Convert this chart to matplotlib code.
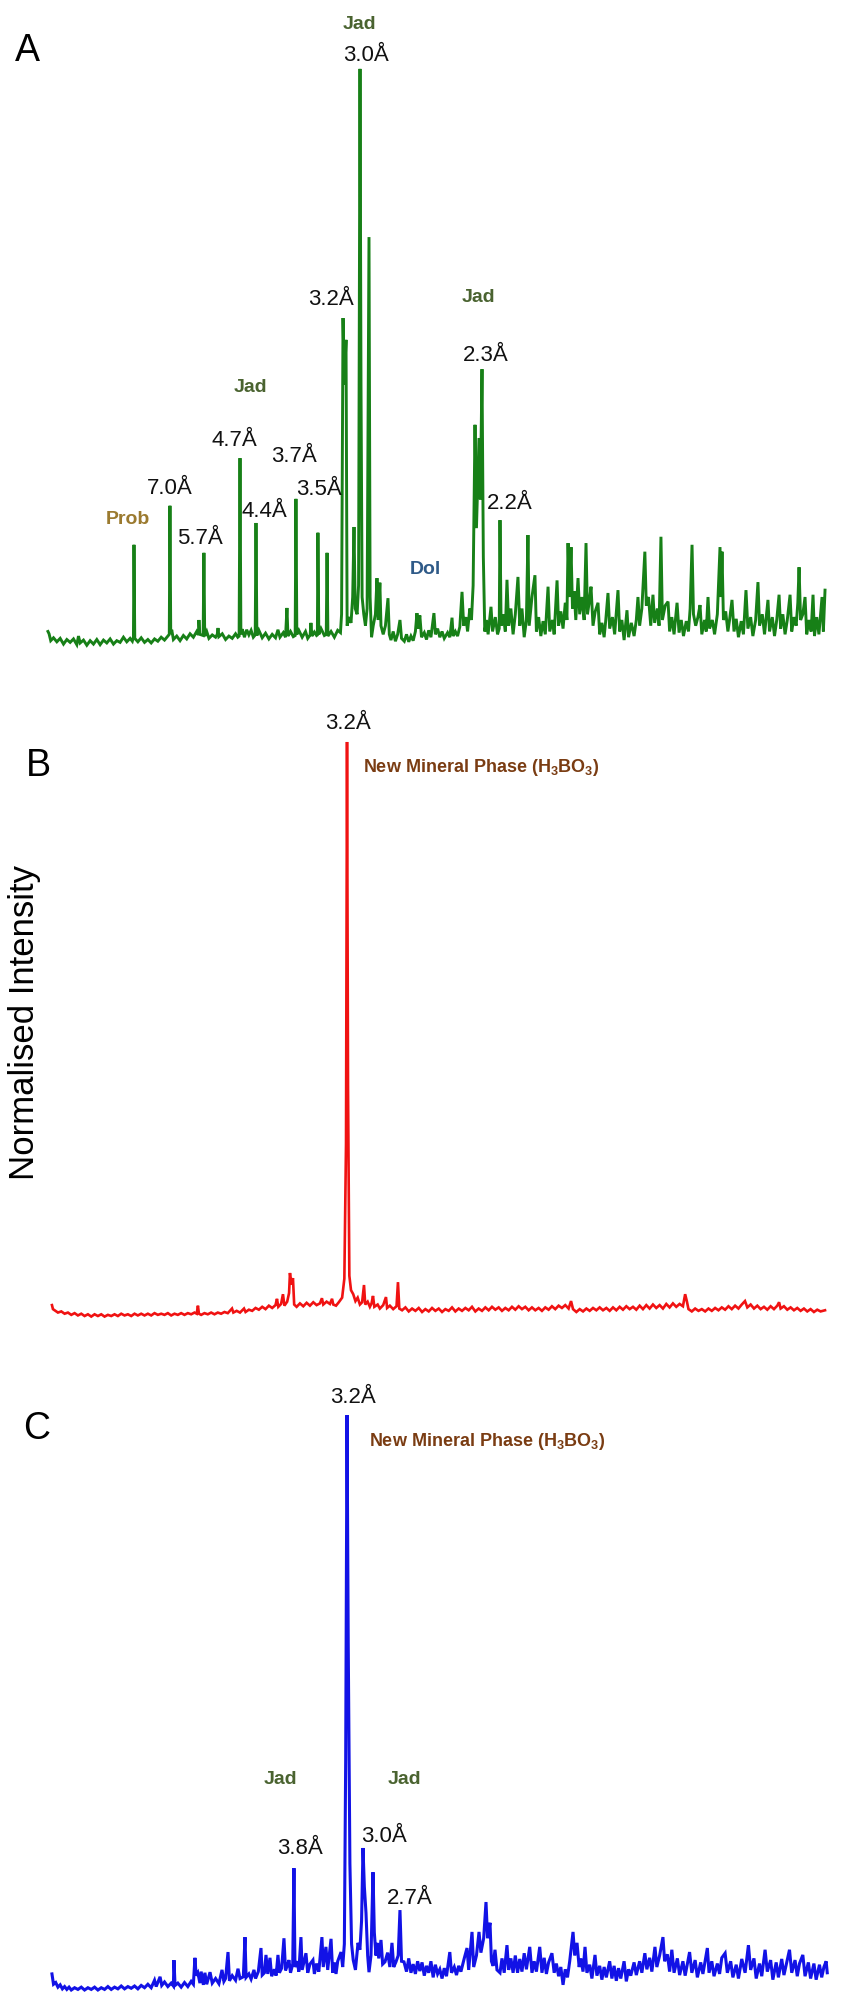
import matplotlib.pyplot as plt

# XRD patterns: (2theta in degrees, normalised intensity in %)
xrd_a = [
    (2.00, 2.0), (2.10, 1.6), (2.25, 0.4), (2.5, 0.9), (2.8, 0.2), (3.1, 0.8), (3.4, -0.2),
    (3.7, 0.6), (4.0, 0.1), (4.3, 0.7), (4.6, -0.3), (4.75, 1.2), (4.9, 0.0), (5.2, 0.5),
    (5.5, -0.4), (5.8, 0.4), (6.1, -0.2), (6.4, 0.6), (6.7, -0.3), (7.0, 0.5), (7.3, 0.0),
    (7.6, 0.7), (7.9, -0.2), (8.2, 0.4), (8.5, 0.1), (8.8, 1.0), (9.1, 0.2), (9.4, 0.8),
    (9.6, 0.3), (9.70, 1.0), (9.75, 17.1), (9.82, 0.8), (10.1, 0.2), (10.4, 0.9), (10.7, 0.1),
    (11.0, 0.6), (11.3, 0.0), (11.6, 0.7), (11.9, 0.3), (12.2, 1.0), (12.5, 0.5), (12.8, 1.2),
    (12.93, 1.5), (12.99, 23.9), (13.06, 1.6), (13.15, 2.3), (13.3, 0.6), (13.6, 1.2),
    (13.9, 0.4), (14.2, 1.3), (14.5, 0.7), (14.8, 1.6), (15.1, 1.0), (15.4, 2.0), (15.55, 1.4),
    (15.60, 4.0), (15.68, 1.5), (15.98, 1.3), (16.05, 15.7), (16.12, 1.2), (16.3, 2.0),
    (16.5, 0.8), (16.8, 1.4), (17.1, 1.0), (17.25, 1.5), (17.32, 2.6), (17.4, 1.1), (17.7, 1.6),
    (18.0, 0.6), (18.3, 1.2), (18.6, 0.8), (18.9, 1.6), (19.1, 1.0), (19.22, 1.2), (19.30, 32.2),
    (19.38, 1.5), (19.5, 2.4), (19.7, 1.0), (19.9, 2.3), (20.1, 1.4), (20.3, 2.2), (20.5, 1.0),
    (20.67, 1.4), (20.74, 20.9), (20.82, 1.3), (21.0, 2.2), (21.3, 0.9), (21.6, 1.7), (21.9, 0.7),
    (22.2, 1.5), (22.5, 0.9), (22.72, 2.3), (22.9, 1.0), (23.2, 1.8), (23.4, 1.0), (23.53, 6.1),
    (23.62, 1.2), (23.85, 2.0), (24.1, 1.1), (24.27, 1.3), (24.34, 25.1), (24.42, 1.5),
    (24.6, 2.2), (24.9, 1.0), (25.2, 2.0), (25.4, 0.8), (25.62, 1.4), (25.69, 3.5), (25.78, 1.2),
    (26.0, 1.9), (26.2, 1.3), (26.27, 1.4), (26.32, 19.2), (26.40, 1.5), (26.6, 2.5), (26.9, 1.3),
    (27.07, 1.5), (27.14, 15.7), (27.22, 1.2), (27.5, 2.0), (27.8, 1.0), (28.1, 2.2), (28.35, 1.8),
    (28.45, 5.0), (28.58, 56.6), (28.70, 45.0), (28.85, 52.8), (28.95, 3.0), (29.1, 4.5),
    (29.3, 3.5), (29.45, 8.0), (29.57, 20.2), (29.68, 6.0), (29.85, 5.0), (29.98, 10.0),
    (30.11, 100.0), (30.2, 45.0), (30.3, 8.0), (30.45, 5.0), (30.6, 3.0), (30.75, 6.0),
    (30.92, 70.7), (31.02, 8.0), (31.15, 1.0), (31.3, 3.0), (31.5, 5.0), (31.64, 11.3),
    (31.75, 4.0), (31.9, 10.5), (32.0, 3.0), (32.2, 1.5), (32.4, 3.0), (32.63, 7.8), (32.75, 1.5),
    (32.9, 0.5), (33.1, 2.0), (33.3, 0.3), (33.5, 1.5), (33.71, 4.0), (33.85, 0.8), (34.1, 0.3),
    (34.3, 1.5), (34.5, 0.2), (34.7, 1.2), (34.9, 0.4), (35.1, 2.0), (35.24, 5.2), (35.35, 2.5),
    (35.5, 4.8), (35.65, 1.0), (35.9, 1.8), (36.1, 0.6), (36.3, 2.2), (36.5, 1.0), (36.77, 5.2),
    (36.9, 1.5), (37.1, 2.5), (37.3, 1.0), (37.5, 2.0), (37.7, 0.8), (38.0, 1.8), (38.2, 1.0),
    (38.40, 4.4), (38.5, 1.2), (38.7, 2.0), (38.9, 1.2), (39.1, 2.8), (39.30, 8.9), (39.45, 3.0),
    (39.65, 4.5), (39.8, 2.0), (40.0, 6.0), (40.15, 4.0), (40.3, 10.0), (40.47, 38.0),
    (40.6, 20.0), (40.83, 35.7), (40.95, 25.0), (41.10, 47.7), (41.22, 15.0), (41.35, 2.0),
    (41.5, 4.0), (41.65, 1.5), (41.91, 6.3), (42.05, 2.0), (42.3, 4.5), (42.5, 1.5), (42.65, 2.5),
    (42.72, 21.4), (42.82, 3.0), (43.0, 5.0), (43.2, 2.0), (43.35, 11.0), (43.5, 3.0), (43.7, 6.0),
    (43.9, 1.5), (44.1, 5.0), (44.34, 11.5), (44.5, 3.0), (44.7, 6.0), (44.9, 1.0), (45.1, 4.0),
    (45.24, 18.8), (45.35, 3.0), (45.6, 8.0), (45.87, 11.8), (46.0, 2.0), (46.2, 4.5),
    (46.4, 1.2), (46.6, 3.8), (46.8, 1.5), (47.05, 9.8), (47.2, 2.0), (47.45, 4.0), (47.6, 1.5),
    (47.86, 10.9), (48.0, 3.0), (48.2, 5.5), (48.4, 2.5), (48.6, 7.0), (48.75, 4.0),
    (48.85, 17.4), (48.98, 8.0), (49.12, 16.7), (49.25, 6.0), (49.4, 9.0), (49.55, 4.0),
    (49.75, 11.3), (49.9, 5.0), (50.1, 8.0), (50.3, 4.0), (50.47, 17.4), (50.6, 5.0), (50.75, 7.0),
    (50.92, 9.8), (51.1, 3.0), (51.3, 5.5), (51.55, 7.0), (51.7, 1.5), (51.9, 3.5), (52.1, 1.0),
    (52.25, 4.0), (52.45, 8.7), (52.6, 2.5), (52.85, 4.5), (53.05, 1.5), (53.35, 9.2), (53.5, 2.0),
    (53.7, 4.0), (53.9, 0.5), (54.16, 5.7), (54.3, 1.0), (54.55, 3.5), (54.8, 1.2), (55.0, 4.0),
    (55.15, 8.0), (55.3, 3.0), (55.5, 6.0), (55.77, 15.9), (55.9, 6.5), (56.1, 8.0), (56.3, 3.0),
    (56.5, 8.4), (56.65, 3.5), (56.9, 6.0), (57.05, 3.0), (57.22, 18.5), (57.35, 4.0),
    (57.6, 6.5), (57.86, 7.2), (58.0, 2.0), (58.2, 4.5), (58.4, 1.5), (58.67, 7.0), (58.85, 1.8),
    (59.05, 4.0), (59.25, 1.2), (59.5, 3.8), (59.7, 2.0), (59.85, 6.0), (60.02, 17.1),
    (60.15, 5.0), (60.35, 3.0), (60.55, 4.5), (60.74, 6.6), (60.9, 1.5), (61.15, 4.0), (61.3, 2.0),
    (61.46, 8.0), (61.6, 2.5), (61.85, 4.0), (62.05, 1.5), (62.3, 5.0), (62.54, 16.7),
    (62.63, 8.0), (62.72, 15.9), (62.85, 4.0), (63.05, 5.5), (63.25, 2.0), (63.4, 4.0),
    (63.62, 7.5), (63.8, 2.0), (64.0, 4.2), (64.2, 1.0), (64.45, 3.8), (64.65, 1.5), (64.88, 9.2),
    (65.05, 2.5), (65.3, 4.5), (65.5, 1.2), (65.75, 4.0), (65.96, 10.6), (66.1, 3.0), (66.35, 5.0),
    (66.55, 1.5), (66.86, 7.5), (67.0, 2.0), (67.25, 4.5), (67.45, 1.2), (67.65, 4.0),
    (67.86, 8.4), (68.0, 2.5), (68.2, 5.0), (68.4, 1.5), (68.6, 4.0), (68.85, 8.4), (69.0, 2.0),
    (69.2, 4.5), (69.4, 3.0), (69.55, 7.0), (69.66, 13.2), (69.8, 4.0), (70.0, 5.0), (70.2, 8.0),
    (70.35, 1.5), (70.55, 4.0), (70.75, 2.0), (70.92, 8.4), (71.05, 1.2), (71.25, 4.5),
    (71.45, 1.5), (71.6, 5.0), (71.73, 8.0), (71.85, 2.0), (72.0, 9.2),
]

xrd_b = [
    (2.36, 1.9), (2.45, 1.2), (2.6, 1.0), (2.9, 0.6), (3.2, 0.8), (3.5, 0.4), (3.8, 0.6),
    (4.1, 0.2), (4.4, 0.5), (4.7, 0.1), (5.0, 0.4), (5.3, 0.0), (5.6, 0.3), (5.9, -0.1),
    (6.2, 0.3), (6.5, 0.0), (6.8, 0.3), (7.1, -0.1), (7.4, 0.2), (7.7, 0.0), (8.0, 0.3),
    (8.3, 0.0), (8.6, 0.4), (8.9, 0.1), (9.2, 0.3), (9.5, 0.0), (9.8, 0.4), (10.1, 0.1),
    (10.4, 0.4), (10.7, 0.1), (11.0, 0.4), (11.3, 0.1), (11.6, 0.5), (11.9, 0.2), (12.2, 0.4),
    (12.5, 0.2), (12.8, 0.5), (13.1, 0.1), (13.4, 0.4), (13.7, 0.2), (14.0, 0.5), (14.3, 0.2),
    (14.6, 0.5), (14.9, 0.3), (15.2, 0.6), (15.4, 0.4), (15.51, 1.8), (15.6, 0.4), (15.8, 0.2),
    (16.1, 0.5), (16.4, 0.3), (16.7, 0.6), (17.0, 0.3), (17.3, 0.6), (17.6, 0.4), (17.9, 0.7),
    (18.2, 0.5), (18.58, 1.3), (18.7, 0.6), (19.0, 0.9), (19.3, 0.6), (19.66, 1.3), (19.8, 0.7),
    (20.1, 1.1), (20.4, 0.9), (20.7, 1.4), (21.0, 1.1), (21.3, 1.6), (21.6, 1.2), (21.9, 1.8),
    (22.2, 1.4), (22.5, 1.9), (22.63, 3.0), (22.75, 1.6), (23.0, 2.1), (23.17, 3.8), (23.3, 1.8),
    (23.55, 2.5), (23.72, 4.0), (23.80, 7.5), (23.92, 5.5), (24.07, 6.6), (24.18, 2.0),
    (24.4, 1.6), (24.7, 2.2), (25.0, 1.7), (25.3, 2.3), (25.6, 1.8), (25.9, 2.4), (26.2, 1.9),
    (26.5, 2.2), (26.68, 3.1), (26.8, 2.0), (27.1, 2.5), (27.4, 2.1), (27.59, 3.0), (27.7, 2.0),
    (27.95, 1.8), (28.2, 2.4), (28.5, 3.2), (28.7, 6.5), (28.85, 30.0), (28.94, 100.0),
    (29.03, 40.0), (29.15, 7.0), (29.3, 4.5), (29.5, 3.8), (29.7, 2.6), (29.9, 3.2), (30.1, 2.0),
    (30.3, 2.4), (30.47, 5.4), (30.58, 2.0), (30.8, 2.5), (31.0, 1.6), (31.15, 2.2), (31.28, 3.5),
    (31.4, 1.6), (31.7, 2.0), (31.9, 1.3), (32.2, 1.9), (32.45, 3.3), (32.55, 1.4), (32.8, 1.8),
    (33.1, 1.2), (33.4, 1.7), (33.53, 5.9), (33.65, 1.3), (33.9, 1.0), (34.2, 1.5), (34.5, 0.8),
    (34.8, 1.3), (35.1, 0.9), (35.4, 1.4), (35.7, 0.7), (36.0, 1.2), (36.3, 0.8), (36.6, 1.4),
    (36.9, 0.9), (37.2, 1.3), (37.5, 0.7), (37.8, 1.2), (38.1, 0.9), (38.4, 1.5), (38.7, 0.8),
    (39.0, 1.3), (39.3, 0.9), (39.6, 1.4), (39.9, 1.0), (40.2, 1.6), (40.5, 0.8), (40.8, 1.3),
    (41.1, 0.9), (41.4, 1.5), (41.7, 1.0), (42.0, 1.6), (42.3, 1.1), (42.6, 1.5), (42.9, 0.9),
    (43.2, 1.4), (43.5, 1.0), (43.8, 1.6), (44.1, 1.1), (44.4, 1.7), (44.7, 1.2), (45.0, 1.6),
    (45.3, 1.0), (45.6, 1.5), (45.9, 1.0), (46.2, 1.4), (46.5, 0.9), (46.8, 1.5), (47.1, 1.1),
    (47.4, 1.7), (47.7, 1.2), (48.0, 1.8), (48.3, 1.4), (48.6, 1.9), (48.9, 1.3), (49.12, 2.6),
    (49.3, 1.2), (49.6, 0.7), (49.9, 1.2), (50.2, 0.8), (50.5, 1.3), (50.8, 0.9), (51.1, 1.4),
    (51.4, 1.0), (51.7, 1.5), (52.0, 1.0), (52.3, 1.4), (52.6, 0.9), (52.9, 1.5), (53.2, 1.0),
    (53.5, 1.6), (53.8, 1.1), (54.1, 1.7), (54.4, 1.2), (54.7, 1.6), (55.0, 1.1), (55.3, 1.8),
    (55.6, 1.2), (55.9, 1.9), (56.2, 1.3), (56.5, 2.0), (56.8, 1.4), (57.1, 1.9), (57.4, 1.3),
    (57.7, 2.1), (58.0, 1.5), (58.3, 2.2), (58.6, 1.6), (58.9, 2.1), (59.2, 1.7), (59.40, 3.8),
    (59.55, 2.6), (59.7, 1.2), (60.0, 0.8), (60.3, 1.3), (60.6, 0.9), (60.9, 1.2), (61.2, 0.8),
    (61.5, 1.3), (61.8, 0.9), (62.1, 1.4), (62.4, 1.0), (62.7, 1.5), (63.0, 1.1), (63.3, 1.7),
    (63.6, 1.2), (63.9, 1.8), (64.2, 1.3), (64.5, 2.0), (64.79, 2.6), (65.0, 1.5), (65.3, 2.0),
    (65.6, 1.3), (65.9, 1.8), (66.2, 1.2), (66.5, 1.6), (66.8, 1.1), (67.1, 1.7), (67.4, 1.2),
    (67.7, 1.8), (67.86, 2.4), (68.0, 1.3), (68.3, 1.7), (68.6, 1.1), (68.9, 1.5), (69.2, 1.0),
    (69.5, 1.4), (69.8, 0.9), (70.1, 1.3), (70.4, 0.8), (70.7, 1.2), (71.0, 0.7), (71.3, 1.1),
    (71.6, 0.8), (72.0, 1.0),
]

xrd_c = [
    (2.36, 2.8), (2.42, 2.0), (2.5, 1.0), (2.7, 1.3), (2.9, 0.5), (3.1, 0.9), (3.3, 0.2),
    (3.5, 0.6), (3.7, 0.1), (3.9, 0.5), (4.1, 0.0), (4.4, 0.4), (4.7, 0.1), (5.0, 0.5),
    (5.3, 0.0), (5.6, 0.4), (5.9, 0.1), (6.2, 0.5), (6.5, 0.0), (6.8, 0.4), (7.1, 0.1),
    (7.4, 0.6), (7.7, 0.1), (8.0, 0.5), (8.3, 0.2), (8.6, 0.7), (8.9, 0.2), (9.2, 0.6),
    (9.5, 0.3), (9.8, 0.7), (10.1, 0.2), (10.4, 0.8), (10.7, 0.4), (11.0, 1.0), (11.3, 0.4),
    (11.6, 1.7), (11.75, 0.6), (12.1, 2.3), (12.25, 0.8), (12.5, 1.4), (12.8, 0.6), (13.1, 1.2),
    (13.3, 0.7), (13.35, 5.2), (13.45, 0.8), (13.7, 1.2), (14.0, 0.5), (14.3, 1.3), (14.6, 0.6),
    (14.9, 1.5), (15.1, 1.0), (15.24, 5.6), (15.35, 2.5), (15.5, 3.0), (15.69, 1.2), (15.8, 3.2),
    (16.0, 0.9), (16.14, 3.0), (16.3, 1.0), (16.6, 3.1), (16.8, 1.2), (17.1, 2.0), (17.4, 1.1),
    (17.68, 3.5), (17.85, 1.5), (18.0, 2.0), (18.22, 6.6), (18.35, 1.6), (18.6, 2.5), (18.9, 1.7),
    (19.12, 3.7), (19.3, 2.0), (19.6, 2.3), (19.75, 9.2), (19.85, 2.2), (20.1, 2.8), (20.3, 1.9),
    (20.56, 3.5), (20.7, 2.0), (20.95, 3.2), (21.19, 7.3), (21.3, 2.6), (21.5, 3.0), (21.64, 6.1),
    (21.8, 2.8), (22.0, 5.6), (22.15, 2.4), (22.4, 3.6), (22.55, 2.5), (22.72, 6.1), (22.85, 3.0),
    (23.05, 3.8), (23.26, 9.0), (23.4, 3.4), (23.55, 4.2), (23.71, 5.2), (23.85, 3.0),
    (24.05, 4.5), (24.16, 21.2), (24.25, 4.0), (24.45, 5.0), (24.6, 3.2), (24.79, 9.2),
    (24.9, 3.5), (25.05, 4.8), (25.24, 6.4), (25.4, 3.0), (25.6, 4.5), (25.87, 5.2), (26.0, 2.8),
    (26.2, 4.6), (26.4, 3.2), (26.68, 9.2), (26.8, 4.0), (27.04, 7.5), (27.2, 3.5), (27.5, 8.9),
    (27.65, 3.0), (27.8, 4.8), (27.95, 2.8), (28.1, 5.0), (28.4, 6.6), (28.55, 4.0), (28.7, 8.0),
    (28.82, 40.0), (28.94, 100.0), (29.05, 60.0), (29.2, 22.0), (29.35, 8.0), (29.5, 5.2),
    (29.7, 3.5), (29.93, 8.2), (30.1, 7.0), (30.25, 12.0), (30.38, 24.7), (30.5, 18.0),
    (30.65, 13.4), (30.8, 6.0), (30.92, 3.1), (31.1, 6.0), (31.28, 20.5), (31.4, 10.0),
    (31.55, 6.0), (31.64, 8.2), (31.8, 5.5), (32.0, 8.7), (32.15, 4.5), (32.36, 4.9), (32.6, 6.5),
    (32.8, 4.0), (32.99, 8.2), (33.15, 4.0), (33.35, 4.9), (33.55, 6.0), (33.71, 13.9),
    (33.85, 5.0), (34.07, 4.9), (34.3, 3.2), (34.5, 5.5), (34.7, 3.0), (34.9, 4.5), (35.1, 2.8),
    (35.3, 5.0), (35.5, 3.3), (35.7, 4.8), (35.9, 2.5), (36.1, 4.2), (36.3, 3.0), (36.5, 5.0),
    (36.7, 2.2), (36.9, 4.4), (37.1, 2.8), (37.3, 3.6), (37.5, 2.0), (37.7, 3.8), (37.9, 2.4),
    (38.2, 6.6), (38.35, 3.0), (38.6, 4.0), (38.8, 2.6), (39.0, 4.2), (39.2, 3.2), (39.5, 5.5),
    (39.75, 7.3), (39.9, 3.5), (40.2, 10.1), (40.35, 4.0), (40.6, 6.0), (40.83, 10.1),
    (41.0, 6.5), (41.25, 9.0), (41.46, 15.3), (41.6, 9.0), (41.82, 11.7), (41.95, 5.0),
    (42.1, 4.2), (42.27, 7.0), (42.45, 3.5), (42.72, 3.0), (42.9, 5.5), (43.1, 3.0), (43.35, 7.8),
    (43.5, 3.5), (43.7, 5.5), (43.9, 3.0), (44.1, 6.0), (44.3, 3.0), (44.5, 5.4), (44.7, 3.2),
    (44.9, 6.4), (45.1, 3.6), (45.4, 7.5), (45.6, 3.0), (45.8, 5.0), (46.0, 3.2), (46.3, 7.5),
    (46.5, 3.0), (46.7, 5.6), (46.9, 2.8), (47.1, 4.8), (47.4, 6.4), (47.6, 3.0), (47.8, 4.6),
    (48.0, 2.4), (48.2, 4.0), (48.4, 0.9), (48.6, 3.6), (48.8, 2.2), (49.0, 5.0), (49.3, 10.1),
    (49.45, 6.0), (49.66, 8.2), (49.85, 4.0), (50.0, 5.5), (50.2, 3.2), (50.38, 7.5),
    (50.55, 3.0), (50.8, 4.4), (51.0, 2.0), (51.28, 6.1), (51.45, 2.5), (51.7, 4.2), (51.9, 1.8),
    (52.1, 4.0), (52.3, 2.2), (52.6, 5.0), (52.8, 2.0), (53.0, 4.2), (53.2, 1.6), (53.4, 3.8),
    (53.6, 2.0), (53.9, 5.0), (54.1, 1.5), (54.3, 3.6), (54.5, 2.5), (54.8, 4.8), (55.0, 2.6),
    (55.3, 5.0), (55.5, 3.0), (55.77, 6.4), (55.95, 3.6), (56.2, 5.6), (56.4, 3.2), (56.68, 7.5),
    (56.85, 4.0), (57.1, 6.0), (57.4, 9.2), (57.55, 5.0), (57.8, 6.2), (58.0, 3.2), (58.2, 7.0),
    (58.4, 3.0), (58.7, 5.5), (58.9, 2.6), (59.2, 5.0), (59.4, 2.5), (59.8, 6.6), (60.0, 3.0),
    (60.3, 5.2), (60.5, 2.2), (60.8, 4.8), (61.0, 2.8), (61.4, 7.3), (61.55, 3.0), (61.8, 5.0),
    (62.0, 2.4), (62.3, 4.6), (62.5, 2.8), (62.7, 5.6), (63.0, 6.4), (63.2, 3.0), (63.5, 5.0),
    (63.7, 2.2), (64.0, 4.4), (64.2, 2.0), (64.5, 5.4), (64.8, 3.0), (65.1, 7.8), (65.3, 3.5),
    (65.6, 5.5), (65.8, 2.0), (66.1, 4.6), (66.3, 2.4), (66.6, 7.0), (66.8, 3.2), (67.1, 5.2),
    (67.3, 1.8), (67.6, 4.8), (67.8, 2.2), (68.1, 5.4), (68.3, 2.6), (68.8, 7.0), (69.0, 3.0),
    (69.3, 5.2), (69.5, 2.4), (69.7, 4.6), (70.0, 6.1), (70.2, 2.4), (70.5, 4.8), (70.7, 2.0),
    (71.0, 4.6), (71.2, 1.8), (71.5, 4.4), (71.7, 2.2), (71.9, 4.0), (72.1, 5.0), (72.2, 3.0),
]

# peak labels (d-spacings) per panel
a_peaks = ['7.0Å', '5.7Å', '4.7Å', '4.4Å', '3.7Å', '3.5Å', '3.2Å', '3.0Å', '2.3Å', '2.2Å']
a_peak_pos = [(12.99, 26.0), (15.69, 17.2), (18.76, 34.3), (21.46, 21.9), (24.16, 31.5),
              (26.41, 25.8), (27.50, 58.9), (30.65, 101.4), (41.46, 49.1), (43.62, 23.3)]
c_peaks = ['3.8Å', '3.0Å', '2.7Å']
c_peak_pos = [(24.70, 23.7), (32.27, 25.7), (34.61, 15.0)]

plt.rcParams['font.family'] = ['Liberation Sans', 'DejaVu Sans']
plt.rcParams['mathtext.fontset'] = 'custom'
plt.rcParams['mathtext.rm'] = 'Liberation Sans:bold'
plt.rcParams['mathtext.default'] = 'rm'

fig = plt.figure(figsize=(8.5, 20.11), dpi=100)

ax_a = fig.add_axes([0, 0.6569, 1, 0.3431])
ax_b = fig.add_axes([0, 0.3237, 1, 0.3332])
ax_c = fig.add_axes([0, 0.0, 1, 0.3237])

panels = [(ax_a, xrd_a, '#178017', 2.1, (-8.19, 112.0)),
          (ax_b, xrd_b, '#f01212', 1.9, (-7.67, 109.06)),
          (ax_c, xrd_c, '#1212e6', 2.2, (-3.65, 109.57))]
for ax, data, col, lw, ylim in panels:
    tt = [p[0] for p in data]
    inten = [p[1] for p in data]
    ax.plot(tt, inten, color=col, lw=lw, solid_joinstyle='miter')
    ax.set_xlim(-2.32, 74.25)
    ax.set_ylim(*ylim)
    ax.axis('off')

jad_col = '#4a6330'
min_col = '#7a3c12'
lab = dict(fontsize=16, ha='center', va='baseline', color='#111111')
bold = dict(fontsize=14, fontweight='bold', ha='center', va='baseline')
mineral = dict(fontsize=13, fontweight='bold', ha='left', va='baseline', color=min_col)

# panel A
ax_a.text(0.11, 101.3, 'A', fontsize=27, ha='center', va='baseline')
for txt, (x, y) in zip(a_peaks, a_peak_pos):
    ax_a.text(x, y, txt, **lab)
ax_a.text(30.02, 107.0, 'Jad', color=jad_col, **bold)
ax_a.text(20.2, 43.7, 'Jad', color=jad_col, **bold)
ax_a.text(40.74, 59.4, 'Jad', color=jad_col, **bold)
ax_a.text(9.21, 20.7, 'Prob', color='#9b7a2f', **bold)
ax_a.text(35.96, 12.0, 'Dol', color='#2f5a88', **bold)

# panel B
ax_b.text(1.10, 94.1, 'B', fontsize=27, ha='center', va='baseline')
ax_b.text(29.03, 102.3, '3.2Å', **lab)
ax_b.text(30.38, 94.8, 'New Mineral Phase (H$_3$BO$_3$)', **mineral)

# panel C
ax_c.text(1.01, 95.8, 'C', fontsize=27, ha='center', va='baseline')
ax_c.text(29.48, 102.1, '3.2Å', **lab)
ax_c.text(30.92, 94.6, 'New Mineral Phase (H$_3$BO$_3$)', **mineral)
for txt, (x, y) in zip(c_peaks, c_peak_pos):
    ax_c.text(x, y, txt, **lab)
ax_c.text(22.99, 35.8, 'Jad', color=jad_col, **bold)
ax_c.text(34.16, 35.8, 'Jad', color=jad_col, **bold)

fig.text(0.0294, 0.4913, 'Normalised Intensity', fontsize=25, rotation=90,
         ha='center', va='center')

fig.savefig('out.png', dpi=100)
